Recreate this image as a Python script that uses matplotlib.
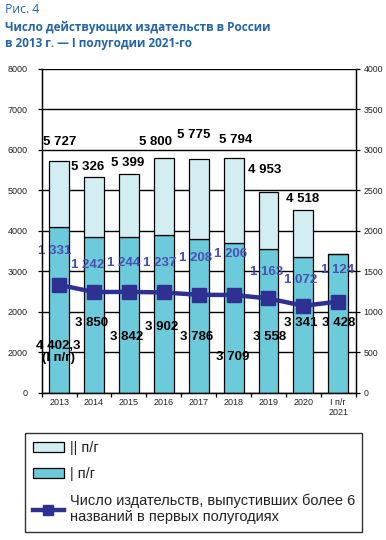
import matplotlib
matplotlib.use("Agg")
import matplotlib.pyplot as plt
from matplotlib.patches import Patch
from matplotlib.lines import Line2D

# ---- data ----
categories = ["2013", "2014", "2015", "2016", "2017", "2018", "2019", "2020", "I п/г\n2021"]
first_half = [4100, 3850, 3842, 3902, 3786, 3709, 3558, 3341, 3428]
totals = [5727, 5326, 5399, 5800, 5775, 5794, 4953, 4518, None]
publishers_6plus = [1331, 1242, 1244, 1237, 1208, 1206, 1163, 1072, 1124]

total_labels = ["5 727", "5 326", "5 399", "5 800", "5 775", "5 794", "4 953", "4 518"]
first_labels = ["4 402,3\n(I п/г)", "3 850", "3 842", "3 902", "3 786", "3 709", "3 558", "3 341", "3 428"]
line_labels = ["1 331", "1 242", "1 244", "1 237", "1 208", "1 206", "1 163", "1 072", "1 124"]

left_ticks = [0, 1000, 2000, 3000, 4000, 5000, 6000, 7000, 8000]
left_tick_labels = ["0", "2000", "2000", "3000", "4000", "5000", "6000", "7000", "8000"]
right_ticks = [0, 500, 1000, 1500, 2000, 2500, 3000, 3500, 4000]

# ---- label layout (positions) ----
total_lab_x = [0.02, 0.83, 1.97, 2.75, 3.86, 5.07, 5.90, 6.99]
total_lab_y = [6190, 5588, 5672, 6190, 6370, 6247, 5506, 4790]
first_lab_x = [-0.03, 0.94, 1.94, 2.95, 3.95, 4.98, 6.02, 6.92, 8.0]
first_lab_y = [1012, 1728, 1383, 1630, 1383, 889, 1383, 1728, 1728]
line_lab_x = [-0.12, 0.83, 1.86, 2.89, 3.92, 4.92, 5.96, 6.93, 7.97]
line_lab_y = [3489, 3143, 3210, 3210, 3333, 3432, 2970, 2790, 3037]

C_LIGHT = "#d3eef3"
C_DARK = "#6ccbdb"
C_LINE = "#2e3192"
C_LLAB = "#4a4fb0"
C_TITLE = "#2464a8"
TXT = "#222222"

plt.rcParams["font.family"] = ["Liberation Sans", "DejaVu Sans"]

fig = plt.figure(figsize=(3.86, 5.40), dpi=100)
ax = fig.add_axes([41.7 / 386, 1 - 392.5 / 540, (355.7 - 41.7) / 386, (392.5 - 69) / 540])

x = list(range(len(categories)))
width = 0.57
second_half = [(t - f) if t is not None else 0 for t, f in zip(totals, first_half)]

for yv in left_ticks:
    ax.axhline(yv, color="black", lw=1.0, zorder=0)

ax.bar(x, first_half, width=width, color=C_DARK, edgecolor="black", linewidth=0.9, zorder=2)
ax.bar(x, second_half, width=width, bottom=first_half, color=C_LIGHT, edgecolor="black",
       linewidth=0.9, zorder=2)

ax.set_xlim(-0.5, len(categories) - 0.5)
ax.set_ylim(0, 8000)
ax.set_yticks(left_ticks)
ax.set_yticklabels(left_tick_labels)
ax.set_xticks(x)
ax.set_xticklabels(categories)
ax.set_xticks([i - 0.5 for i in range(len(categories) + 1)], minor=True)
ax.tick_params(axis="x", which="major", length=0, pad=4, labelsize=6.5, labelcolor=TXT)
ax.tick_params(axis="x", which="minor", length=3, width=0.9, color="black")
ax.tick_params(axis="y", length=3, width=0.9, labelsize=6.5, labelcolor=TXT, pad=7)
ax.spines["top"].set_visible(False)
for s in ["left", "right", "bottom"]:
    ax.spines[s].set_linewidth(1.0)

ax2 = ax.twinx()
ax2.set_ylim(0, 4000)
ax2.set_yticks(right_ticks)
ax2.tick_params(axis="y", length=3, width=0.9, labelsize=6.3, labelcolor=TXT, pad=2.5)
ax2.spines["top"].set_visible(False)
ax2.plot(x, publishers_6plus, color=C_LINE, lw=3.2, marker="s", markersize=10, zorder=5)

for xi, yi, s in zip(total_lab_x, total_lab_y, total_labels):
    ax.text(xi, yi, s, ha="center", va="center", fontsize=9.5, fontweight="bold", color="black", zorder=6)
for xi, yi, s in zip(first_lab_x, first_lab_y, first_labels):
    ax.text(xi, yi, s, ha="center", va="center", fontsize=9.5, fontweight="bold", color="black",
            zorder=6, linespacing=1.0)
for xi, yi, s in zip(line_lab_x, line_lab_y, line_labels):
    ax.text(xi, yi, s, ha="center", va="center", fontsize=9.5, fontweight="bold", color=C_LLAB, zorder=6)

# title
fig.text(5 / 386, 1 - 3 / 540, "Рис. 4", ha="left", va="top", fontsize=8.8,
         family=["Open Sans", "DejaVu Sans"], color=C_TITLE)
fig.text(5 / 386, 1 - 21 / 540, "Число действующих издательств в России\nв 2013 г. — I полугодии 2021-го",
         ha="left", va="top", fontsize=8.5, fontweight="bold", family=["Open Sans", "DejaVu Sans"],
         color=C_TITLE, linespacing=1.25)

handles = [
    Patch(facecolor=C_LIGHT, edgecolor="black", linewidth=0.9),
    Patch(facecolor=C_DARK, edgecolor="black", linewidth=0.9),
    Line2D([0], [0], color=C_LINE, lw=3.2, marker="s", markersize=7),
]
labels = ["|| п/г", "| п/г", "Число издательств, выпустивших более 6\nназваний в первых полугодиях"]
leg = fig.legend(handles, labels, loc="upper left",
                 bbox_to_anchor=(25 / 386, 1 - 433 / 540, (362 - 25) / 386, 0.0),
                 mode="expand", fontsize=10.5, frameon=True, fancybox=False,
                 edgecolor="black", handlelength=2.1, handleheight=0.7, handletextpad=0.45,
                 labelspacing=0.85, borderpad=0.55, borderaxespad=0)
leg.get_frame().set_linewidth(1.0)
for t in leg.get_texts():
    t.set_color(TXT)

fig.savefig("out.png", dpi=100)
